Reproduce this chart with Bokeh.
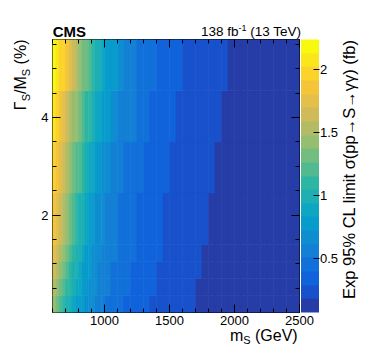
from bokeh.plotting import figure
from bokeh.layouts import column, row
from bokeh.models import (Range1d, LinearColorMapper, ColorBar, FixedTicker, Div,
                          LinearAxis, CustomJSTickFormatter, NumeralTickFormatter, ColumnDataSource)
from bokeh.transform import transform
from bokeh.embed import file_html
from bokeh.resources import INLINE

# ---------------- data ----------------
MASS_EDGES = [600, 625, 650, 675, 700, 725, 750, 775, 800, 825, 850, 875, 900, 925, 950, 975,
              1000, 1050, 1100, 1150, 1200, 1250, 1300, 1350, 1400, 1450, 1500, 1550, 1600,
              1650, 1700, 1750, 1800, 1850, 1900, 1950, 2000, 2050, 2100, 2150, 2200, 2250,
              2300, 2350, 2400, 2450, 2500]
WIDTH_EDGES = [0.0, 0.35, 0.70, 1.05, 1.40, 2.45, 3.50, 4.55, 5.60]

# expected limits (fb), one list per width bin, bottom (narrow) to top (wide)
LIMIT_W1 = [1.40, 1.305, 1.215, 1.125, 1.04, 0.96, 0.89, 0.83, 0.775, 0.73, 0.686, 0.652, 0.62, 0.59, 0.565, 0.54,
            0.506, 0.467, 0.429, 0.396, 0.366, 0.338, 0.312, 0.29, 0.27, 0.25, 0.231, 0.215, 0.20, 0.185,
            0.178, 0.17, 0.163, 0.156, 0.149, 0.142, 0.136, 0.13, 0.124, 0.118, 0.112, 0.106, 0.10, 0.094, 0.086, 0.078]
LIMIT_W2 = [1.525, 1.425, 1.325, 1.23, 1.14, 1.055, 0.975, 0.90, 0.838, 0.78, 0.735, 0.69, 0.656, 0.622, 0.59, 0.563,
            0.525, 0.485, 0.445, 0.41, 0.38, 0.35, 0.325, 0.30, 0.28, 0.26, 0.24, 0.222, 0.207, 0.193,
            0.18, 0.172, 0.165, 0.158, 0.152, 0.146, 0.141, 0.136, 0.131, 0.126, 0.121, 0.117, 0.113, 0.109, 0.105, 0.101]
LIMIT_W3 = [1.61, 1.51, 1.405, 1.305, 1.215, 1.12, 1.035, 0.958, 0.89, 0.828, 0.77, 0.725, 0.683, 0.65, 0.615, 0.584,
            0.545, 0.50, 0.461, 0.424, 0.392, 0.362, 0.335, 0.31, 0.288, 0.268, 0.248, 0.229, 0.213, 0.199,
            0.187, 0.178, 0.171, 0.164, 0.158, 0.152, 0.146, 0.141, 0.136, 0.131, 0.126, 0.122, 0.118, 0.114, 0.110, 0.106]
LIMIT_W4 = [1.71, 1.60, 1.50, 1.395, 1.295, 1.20, 1.11, 1.025, 0.945, 0.877, 0.82, 0.765, 0.72, 0.677, 0.643, 0.61,
            0.567, 0.519, 0.478, 0.44, 0.405, 0.375, 0.346, 0.321, 0.297, 0.277, 0.257, 0.237, 0.22, 0.205,
            0.192, 0.181, 0.174, 0.167, 0.161, 0.155, 0.149, 0.144, 0.139, 0.134, 0.129, 0.125, 0.121, 0.117, 0.113, 0.109]
LIMIT_W5 = [1.88, 1.76, 1.63, 1.51, 1.41, 1.305, 1.215, 1.12, 1.03, 0.945, 0.87, 0.81, 0.755, 0.715, 0.68, 0.65,
            0.60, 0.55, 0.505, 0.465, 0.428, 0.395, 0.365, 0.338, 0.312, 0.29, 0.27, 0.25, 0.231, 0.215,
            0.20, 0.188, 0.18, 0.171, 0.165, 0.159, 0.153, 0.147, 0.142, 0.137, 0.132, 0.128, 0.124, 0.120, 0.116, 0.112]
LIMIT_W6 = [2.00, 1.905, 1.79, 1.68, 1.57, 1.475, 1.355, 1.26, 1.165, 1.07, 0.995, 0.92, 0.86, 0.805, 0.755, 0.71,
            0.66, 0.60, 0.55, 0.505, 0.465, 0.428, 0.395, 0.365, 0.338, 0.312, 0.29, 0.27, 0.25, 0.231,
            0.215, 0.20, 0.188, 0.18, 0.171, 0.165, 0.159, 0.153, 0.147, 0.142, 0.137, 0.132, 0.128, 0.124, 0.120, 0.116]
LIMIT_W7 = [2.04, 1.945, 1.85, 1.75, 1.655, 1.56, 1.465, 1.375, 1.29, 1.21, 1.13, 1.05, 0.98, 0.915, 0.86, 0.805,
            0.74, 0.665, 0.61, 0.555, 0.51, 0.47, 0.432, 0.398, 0.368, 0.34, 0.315, 0.289, 0.272, 0.252,
            0.233, 0.216, 0.201, 0.189, 0.18, 0.172, 0.165, 0.159, 0.153, 0.148, 0.143, 0.138, 0.133, 0.129, 0.125, 0.121]
LIMIT_W8 = [2.185, 2.11, 2.02, 1.925, 1.83, 1.73, 1.63, 1.535, 1.445, 1.355, 1.27, 1.19, 1.11, 1.035, 0.965, 0.90,
            0.82, 0.73, 0.66, 0.60, 0.55, 0.505, 0.465, 0.428, 0.395, 0.365, 0.338, 0.312, 0.29, 0.27,
            0.25, 0.231, 0.215, 0.20, 0.188, 0.18, 0.171, 0.165, 0.159, 0.153, 0.147, 0.142, 0.137, 0.132, 0.128, 0.124]
LIMIT_ROWS = [LIMIT_W1, LIMIT_W2, LIMIT_W3, LIMIT_W4, LIMIT_W5, LIMIT_W6, LIMIT_W7, LIMIT_W8]

Z_MIN, Z_MAX = 0.074, 2.24
N_CONTOURS = 20

X_RANGE = (600, 2500)
Y_RANGE = (0.0, 5.6)
X_MAJOR = [1000, 1500, 2000, 2500]
X_MINOR = [600, 700, 800, 900, 1000, 1100, 1200, 1300, 1400, 1500, 1600, 1700, 1800, 1900,
           2000, 2100, 2200, 2300, 2400, 2500]
Y_MAJOR = [2, 4]
Y_MINOR = [0.5, 1.0, 1.5, 2.0, 2.5, 3.0, 3.5, 4.0, 4.5, 5.0, 5.5]
CB_TICKS = [0.5, 1.0, 1.5, 2.0]

# ---------------- palette (ROOT kBird) ----------------
STOPS = [0.0, 0.125, 0.25, 0.375, 0.5, 0.625, 0.75, 0.875, 1.0]
RED = [0.2082, 0.0592, 0.0780, 0.0232, 0.1802, 0.5301, 0.8186, 0.9956, 0.9764]
GRN = [0.1664, 0.3599, 0.5041, 0.6419, 0.7178, 0.7492, 0.7328, 0.7862, 0.9832]
BLU = [0.5293, 0.8684, 0.8385, 0.7914, 0.6425, 0.4662, 0.3499, 0.1968, 0.0539]


def bird(f):
    for k in range(len(STOPS) - 1):
        if STOPS[k] <= f <= STOPS[k + 1]:
            t = (f - STOPS[k]) / (STOPS[k + 1] - STOPS[k])
            r = RED[k] + t * (RED[k + 1] - RED[k])
            g = GRN[k] + t * (GRN[k + 1] - GRN[k])
            b = BLU[k] + t * (BLU[k + 1] - BLU[k])
            return "#%02x%02x%02x" % (int(r * 255), int(g * 255), int(b * 255))
    return "#000000"


PALETTE = [bird(int((i + 0.99) * 255 / N_CONTOURS) / 254.0) for i in range(N_CONTOURS)]

# ---------------- source ----------------
left, right, bottom, top, z = [], [], [], [], []
for j, row_vals in enumerate(LIMIT_ROWS):
    for i, v in enumerate(row_vals):
        left.append(MASS_EDGES[i])
        right.append(MASS_EDGES[i + 1])
        bottom.append(WIDTH_EDGES[j])
        top.append(WIDTH_EDGES[j + 1])
        z.append(v)
src = ColumnDataSource(dict(left=left, right=right, bottom=bottom, top=top, z=z))

mapper = LinearColorMapper(palette=PALETTE, low=Z_MIN, high=Z_MAX)

FONT = "Liberation Sans"
ASC = 0.8465  # baseline offset from top of a line-height:1 box, Liberation Sans

# layout geometry (pixels)
TOP_H = 39
LEFT_W = 32
FRAME_W, FRAME_H = 247, 273
MAIN_L, MAIN_R, MAIN_B = 20, 41, 18
RIGHT_W = 34
BOTTOM_H = 29
MID_H = FRAME_H + MAIN_B
FULL_W = LEFT_W + MAIN_L + FRAME_W + MAIN_R + RIGHT_W

p = figure(frame_width=FRAME_W, frame_height=FRAME_H, title=None,
           min_border_left=MAIN_L, min_border_right=MAIN_R, min_border_top=0, min_border_bottom=MAIN_B,
           x_range=Range1d(*X_RANGE), y_range=Range1d(*Y_RANGE),
           output_backend="svg", toolbar_location=None, tools="")
p.background_fill_color = "white"
p.border_fill_color = "white"
p.outline_line_color = "black"
p.outline_line_width = 1
p.grid.visible = False

p.quad(left="left", right="right", bottom="bottom", top="top", source=src,
       fill_color=transform("z", mapper), line_color=transform("z", mapper), line_width=0.6)


def style_axis(ax):
    ax.axis_line_color = None
    ax.major_tick_in = 8
    ax.major_tick_out = 0
    ax.minor_tick_in = 4
    ax.minor_tick_out = 0
    ax.major_tick_line_color = "black"
    ax.minor_tick_line_color = "black"
    ax.major_label_text_font = FONT
    ax.major_label_text_font_size = "13px"
    ax.major_label_text_color = "black"
    ax.major_label_standoff = 3


p.xaxis.ticker = FixedTicker(ticks=X_MAJOR, minor_ticks=X_MINOR)
p.yaxis.ticker = FixedTicker(ticks=Y_MAJOR, minor_ticks=Y_MINOR)
style_axis(p.xaxis[0])
style_axis(p.yaxis[0])
p.yaxis[0].major_label_standoff = 4

top_ax = LinearAxis(ticker=FixedTicker(ticks=X_MAJOR, minor_ticks=X_MINOR),
                    formatter=CustomJSTickFormatter(code="return ''"))
style_axis(top_ax)
top_ax.major_label_standoff = 0
top_ax.major_label_text_font_size = "0px"
p.add_layout(top_ax, "above")
right_ax = LinearAxis(ticker=FixedTicker(ticks=Y_MAJOR, minor_ticks=Y_MINOR),
                      formatter=CustomJSTickFormatter(code="return ''"))
style_axis(right_ax)
right_ax.major_label_standoff = 0
right_ax.major_label_text_font_size = "0px"
p.add_layout(right_ax, "right")

cb = ColorBar(color_mapper=mapper, location=(248.5, 0), orientation="vertical",
              width=18, height=FRAME_H, margin=0, padding=0,
              ticker=FixedTicker(ticks=CB_TICKS), formatter=NumeralTickFormatter(format="0.[0]"),
              major_tick_in=6, major_tick_out=0, minor_tick_in=0, minor_tick_out=0,
              major_tick_line_color="black", label_standoff=1,
              major_label_text_font=FONT, major_label_text_font_size="13px",
              major_label_text_color="black",
              bar_line_color=None, border_line_color=None, background_fill_alpha=0)
p.add_layout(cb, "center")


# ---------------- text strips (HTML) ----------------
def sub(t, size=11, shift=3.5):
    return "<span style='font-size:%spx;position:relative;top:%spx'>%s</span>" % (size, shift, t)


def span_h(html, size, baseline, left=None, right=None, weight="normal"):
    pos = ("left:%spx;" % left) if left is not None else ("right:%spx;" % right)
    return ("<span style=\"position:absolute;%stop:%.2fpx;font-family:'%s';font-size:%spx;"
            "font-weight:%s;line-height:1;white-space:nowrap;color:black\">%s</span>"
            % (pos, baseline - ASC * size, FONT, size, weight, html))


def span_v(html, size, baseline_x, top_end, box=280):
    # rotated text reading bottom-to-top, right end of text at y = top_end
    return ("<span style=\"position:absolute;left:%.2fpx;top:%.2fpx;width:%dpx;text-align:right;"
            "font-family:'%s';font-size:%spx;line-height:1;white-space:nowrap;color:black;"
            "transform-origin:0px %.2fpx;transform:rotate(-90deg)\">%s</span>"
            % (baseline_x, top_end + box - ASC * size, box, FONT, size, ASC * size, html))


def strip(w, h, content):
    html = "<div style='position:relative;width:%dpx;height:%dpx;margin:0;padding:0'>%s</div>" % (w, h, content)
    return Div(text=html, width=w, height=h, margin=0)


sup = "<span style='font-size:9px;position:relative;top:-5px'>-1</span>"
header = (span_h("CMS", 15, 36.5, left=52.7, weight="bold") +
          span_h("138 fb" + sup + " (13 TeV)", 13.5, 36.5, right=FULL_W - 301))
top_div = strip(FULL_W, TOP_H, header)

ytitle = span_v("\u0393" + sub("S") + "/M" + sub("S") + " (%)", 16, 26.7, 1, box=200)
left_div = strip(LEFT_W, MID_H, ytitle)

ztitle = span_v("Exp 95% CL limit \u03c3(pp\u2192S\u2192\u03b3\u03b3) (fb)", 16.5, 15, 1, box=285)
right_div = strip(RIGHT_W, MID_H, ztitle)

xtitle = span_h("m" + sub("S") + " (GeV)", 16, 11.5, right=FULL_W - 297.7)
bottom_div = strip(FULL_W, BOTTOM_H, xtitle)

layout = column(top_div, row(left_div, p, right_div), bottom_div)

open("out.html", "w").write(file_html(layout, INLINE))
